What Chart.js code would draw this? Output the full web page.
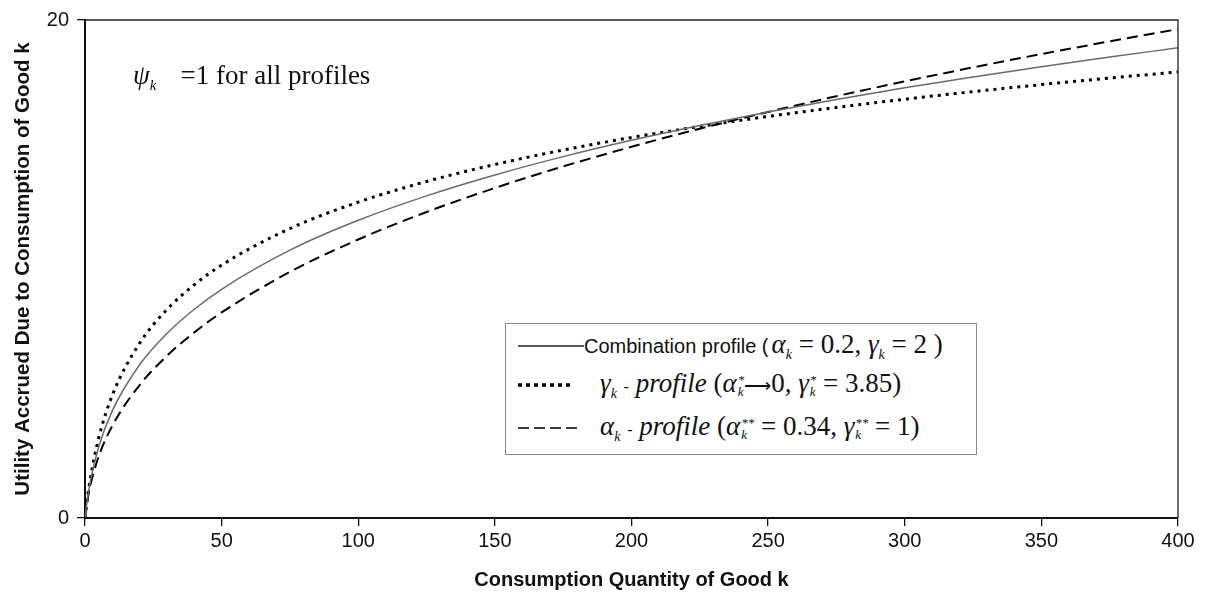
<!DOCTYPE html>
<html><head><meta charset="utf-8">
<script src="https://cdn.jsdelivr.net/npm/chart.js@4.4.0/dist/chart.umd.min.js"></script>
<style>
html,body{margin:0;padding:0;background:#fff;}
#wrap{position:relative;width:1205px;height:593px;}
canvas{position:absolute;left:0;top:0;}
.serif{font-family:"Liberation Serif","DejaVu Serif",serif;}
#note{position:absolute;left:133px;top:60px;font-size:27px;color:#111;white-space:nowrap;}
#legend{position:absolute;left:505px;top:323px;width:472px;height:132px;border:1.5px solid #888;background:#fff;box-sizing:border-box;}
.row{position:absolute;left:12px;white-space:nowrap;color:#111;display:flex;align-items:center;height:30px;}
.sans{font-family:"Liberation Sans",Arial,sans-serif;font-size:20px;}
.m{font-family:"Liberation Serif",serif;font-size:27px;}
.i{font-style:italic;}
sub{font-size:14px;}
.ss{display:inline-flex;flex-direction:column;vertical-align:middle;line-height:12px;margin-left:1px;font-size:13px;font-style:italic;}
</style></head>
<body><div id="wrap"><canvas id="c" width="1205" height="593"></canvas>
<div id="note" class="serif"><span class="i">ψ<sub style="font-size:15px">k</sub></span><span style="margin-left:24px">=1 for all profiles</span></div>
<div id="legend">
 <div class="row" style="top:7px;"><svg width="66" height="10"><line x1="0" y1="5" x2="66" y2="5" stroke="#222" stroke-width="1.3"/></svg><span class="sans">Combination profile (</span><span class="m" style="margin-left:3px"><span class="i">α<sub>k</sub></span> = 0.2, <span class="i">γ<sub>k</sub></span> = 2 )</span></div>
 <div class="row" style="top:46px;"><svg width="60" height="10"><line x1="0" y1="5" x2="54" y2="5" stroke="#000" stroke-width="3.5" stroke-dasharray="4,4"/></svg><span class="m" style="margin-left:22px"><span class="i">γ<sub>k</sub></span> <span style="font-size:16px">-</span> <span class="i">profile</span> (<span class="i">α</span><span class="ss"><span>*</span><span>k</span></span><span style="font-size:19px">⟶</span>0, <span class="i">γ</span><span class="ss"><span>*</span><span>k</span></span> = 3.85)</span></div>
 <div class="row" style="top:89px;"><svg width="66" height="10"><line x1="0" y1="5" x2="64" y2="5" stroke="#000" stroke-width="1.3" stroke-dasharray="11,5"/></svg><span class="m" style="margin-left:16px"><span class="i">α<sub>k</sub></span> <span style="font-size:16px">-</span> <span class="i">profile</span> (<span class="i">α</span><span class="ss"><span>**</span><span>k</span></span> = 0.34, <span class="i">γ</span><span class="ss"><span>**</span><span>k</span></span> = 1)</span></div>
</div>
</div>
<script>
const quantities = [0, 1, 2, 5, 10, 20, 30, 40, 50, 75, 100, 125, 150, 175, 200, 225, 250, 275, 300, 325, 350, 375, 400];
const combinationProfile = [0, 0.845, 1.487, 2.847, 4.310, 6.154, 7.411, 8.384, 9.186, 10.755, 11.955, 12.938, 13.777, 14.513, 15.169, 15.763, 16.307, 16.810, 17.277, 17.714, 18.126, 18.514, 18.883];
const gammaProfile = [0, 0.889, 1.611, 3.204, 4.929, 7.021, 8.370, 9.366, 10.157, 11.625, 12.685, 13.516, 14.198, 14.778, 15.282, 15.727, 16.126, 16.488, 16.819, 17.123, 17.405, 17.668, 17.914];
const alphaProfile = [0, 0.782, 1.332, 2.468, 3.706, 5.340, 6.512, 7.455, 8.256, 9.883, 11.184, 12.288, 13.254, 14.119, 14.908, 15.634, 16.308, 16.939, 17.534, 18.097, 18.632, 19.143, 19.632];
const xTicks = [0, 50, 100, 150, 200, 250, 300, 350, 400];
const yTicks = [0, 20];

const pts = arr => quantities.map((q, i) => ({x: q, y: arr[i]}));
const frame = {
  id: 'frame',
  afterDraw(chart) {
    const {ctx, chartArea: a} = chart;
    ctx.save();
    ctx.strokeStyle = '#222'; ctx.lineWidth = 1.3;
    ctx.beginPath();
    ctx.moveTo(a.left, a.top); ctx.lineTo(a.right, a.top); ctx.lineTo(a.right, a.bottom);
    ctx.stroke();
    ctx.restore();
  }
};
const font = {family: '"Liberation Sans", Arial, sans-serif', size: 20};
new Chart(document.getElementById('c'), {
  type: 'line',
  data: { datasets: [
    {label: 'Combination profile', data: pts(combinationProfile), borderColor: '#6a6a6a', borderWidth: 1.5, pointRadius: 0, cubicInterpolationMode: 'monotone', fill: false},
    {label: 'gamma-profile', data: pts(gammaProfile), borderColor: '#000', borderWidth: 3, borderDash: [3, 5], pointRadius: 0, cubicInterpolationMode: 'monotone', fill: false},
    {label: 'alpha-profile', data: pts(alphaProfile), borderColor: '#000', borderWidth: 2, borderDash: [11, 6], pointRadius: 0, cubicInterpolationMode: 'monotone', fill: false}
  ]},
  options: {
    responsive: false, animation: false,
    layout: {padding: {top: 17, right: 27, left: 0, bottom: 0}},
    plugins: {legend: {display: false}, tooltip: {enabled: false}},
    scales: {
      x: {type: 'linear', min: 0, max: 400,
        afterBuildTicks: s => { s.ticks = xTicks.map(v => ({value: v})); },
        afterFit: s => { s.height = 75; },
        ticks: {font, color: '#111', padding: 3, maxRotation: 0},
        grid: {drawOnChartArea: false, drawTicks: true, tickLength: 8, color: '#111', lineWidth: 1.3},
        border: {color: '#111', width: 2},
        title: {display: true, text: 'Consumption Quantity of Good k', font: {family: font.family, size: 20, weight: 'bold'}, color: '#111', padding: {top: 4, bottom: 1}}
      },
      y: {min: 0, max: 20,
        afterBuildTicks: s => { s.ticks = yTicks.map(v => ({value: v})); },
        afterFit: s => { s.width = 85; },
        ticks: {font, color: '#111', padding: 8},
        grid: {drawOnChartArea: false, drawTicks: true, tickLength: 8, color: '#111', lineWidth: 1.3},
        border: {color: '#111', width: 2},
        title: {display: true, text: 'Utility Accrued Due to Consumption of Good k', font: {family: font.family, size: 20.5, weight: 'bold'}, color: '#111', padding: {top: 11, bottom: 4}}
      }
    }
  },
  plugins: [frame]
});
</script></body></html>
